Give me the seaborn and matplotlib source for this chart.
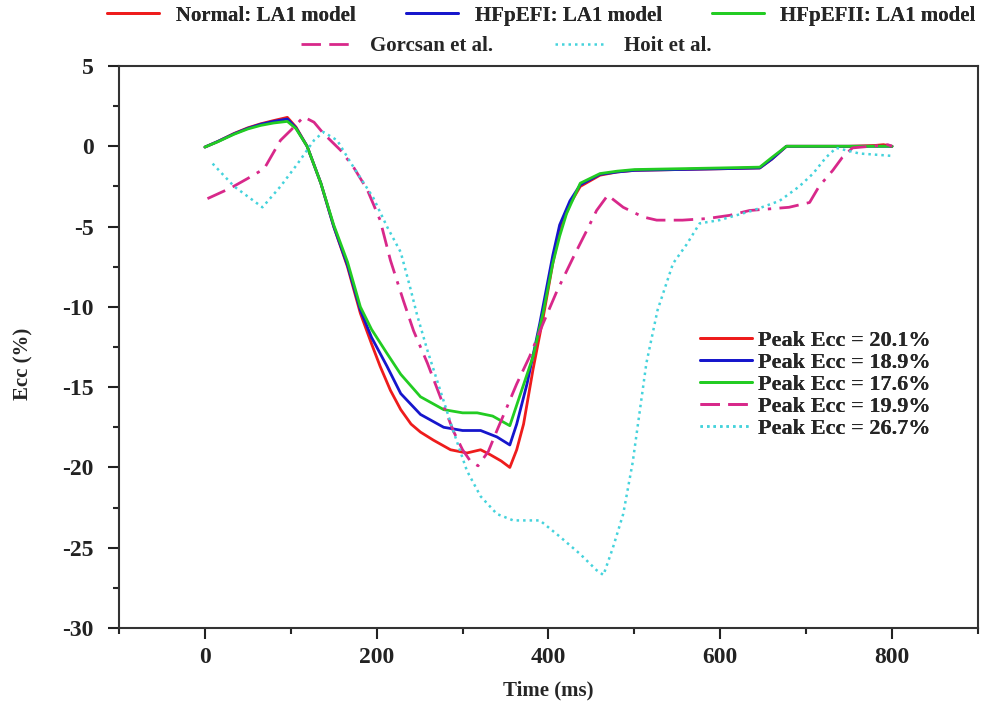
import matplotlib
matplotlib.use("Agg")
import matplotlib.pyplot as plt
from matplotlib.ticker import MultipleLocator
import seaborn as sns
import pandas as pd

# ---------------- data ----------------
normal_t = [0, 15, 34, 50, 65, 80, 96, 106, 119, 135, 150, 166, 181, 194, 204, 216, 228, 240, 251,
            266, 286, 305, 321, 332, 345, 355, 363, 371, 382, 394, 405, 413, 425, 437, 460, 480,
            500, 550, 600, 646, 660, 677, 700, 750, 780, 790, 800]
normal_y = [-0.05, 0.3, 0.8, 1.15, 1.4, 1.6, 1.8, 1.2, 0.0, -2.3, -5.0, -7.5, -10.4, -12.3, -13.7,
            -15.2, -16.4, -17.3, -17.8, -18.3, -18.9, -19.1, -18.9, -19.2, -19.6, -20.0, -18.9,
            -17.3, -13.9, -10.6, -7.3, -5.2, -3.6, -2.5, -1.8, -1.6, -1.5, -1.45, -1.4, -1.35,
            -0.8, 0.0, 0.0, 0.0, 0.05, 0.1, 0.0]

hfpef1_t = [0, 15, 34, 50, 65, 80, 96, 106, 119, 135, 150, 166, 181, 194, 212, 228, 251, 278,
            300, 321, 340, 355, 363, 375, 390, 405, 413, 425, 437, 460, 480, 500, 550, 600, 646,
            660, 677, 700, 750, 800]
hfpef1_y = [-0.05, 0.3, 0.78, 1.12, 1.37, 1.55, 1.7, 1.15, 0.0, -2.3, -5.0, -7.4, -10.2, -11.9,
            -13.7, -15.4, -16.7, -17.5, -17.7, -17.7, -18.1, -18.6, -17.3, -14.8, -11.0, -6.8,
            -4.9, -3.4, -2.4, -1.75, -1.6, -1.5, -1.45, -1.4, -1.35, -0.8, 0.0, 0.0, 0.0, 0.0]

hfpef2_t = [0, 15, 34, 50, 65, 80, 96, 106, 119, 135, 150, 166, 181, 194, 212, 228, 251, 278,
            300, 317, 335, 355, 365, 382, 394, 405, 413, 421, 437, 460, 480, 500, 550, 600, 646,
            660, 677, 700, 750, 800]
hfpef2_y = [-0.05, 0.28, 0.75, 1.08, 1.3, 1.45, 1.55, 1.1, 0.0, -2.3, -4.9, -7.2, -10.0, -11.4,
            -12.9, -14.2, -15.6, -16.4, -16.6, -16.6, -16.8, -17.4, -15.8, -13.1, -10.3, -7.3,
            -5.6, -4.2, -2.3, -1.7, -1.55, -1.45, -1.4, -1.35, -1.3, -0.7, 0.0, 0.0, 0.0, 0.0]

gorcsan_t = [3, 30, 50, 69, 88, 100, 115, 127, 138, 158, 173, 189, 204, 216, 231, 243, 259, 274,
             289, 300, 309, 318, 330, 340, 352, 363, 378, 394, 410, 429, 445, 456, 469, 487, 510,
             526, 556, 585, 611, 634, 657, 680, 704, 715, 731, 742, 754, 775, 795, 800]
gorcsan_y = [-3.26, -2.6, -2.0, -1.4, 0.37, 1.0, 1.83, 1.5, 0.8, -0.25, -1.3, -2.7, -4.6, -7.1,
             -9.6, -11.5, -13.5, -15.6, -17.7, -18.9, -19.6, -19.9, -19.0, -17.7, -16.2, -14.8,
             -13.1, -11.0, -9.0, -6.9, -5.2, -4.0, -3.05, -3.8, -4.4, -4.6, -4.6, -4.5, -4.3,
             -4.0, -3.9, -3.8, -3.5, -2.5, -1.5, -0.7, -0.1, 0.0, 0.1, 0.0]

hoit_t = [9, 34, 67, 88, 108, 127, 138, 154, 173, 196, 212, 228, 239, 247, 259, 274, 289, 305,
          321, 340, 359, 390, 413, 437, 456, 464, 475, 487, 498, 506, 514, 527, 545, 561, 576,
          599, 638, 669, 692, 708, 723, 735, 762, 793, 800]
hoit_y = [-1.08, -2.5, -3.8, -2.5, -1.08, 0.37, 0.89, 0.37, -1.3, -3.2, -5.0, -6.6, -8.8, -10.5,
          -12.7, -15.2, -17.7, -20.2, -21.8, -22.9, -23.3, -23.3, -24.3, -25.4, -26.4, -26.7,
          -25.0, -22.9, -19.7, -16.6, -13.5, -10.2, -7.3, -6.1, -4.8, -4.6, -4.0, -3.4, -2.5,
          -1.7, -0.7, -0.1, -0.45, -0.57, -0.6]

series_names = ["Normal: LA1 model", "HFpEFI: LA1 model", "HFpEFII: LA1 model",
                "Gorcsan et al.", "Hoit et al."]
peak_labels = ["Peak Ecc = 20.1%", "Peak Ecc = 18.9%", "Peak Ecc = 17.6%",
               "Peak Ecc = 19.9%", "Peak Ecc = 26.7%"]
x_ticks = [0, 200, 400, 600, 800]
y_ticks = [5, 0, -5, -10, -15, -20, -25, -30]

# ---------------- style ----------------
sns.set_style("ticks")
plt.rcParams["font.family"] = ["Liberation Serif", "DejaVu Serif"]
plt.rcParams["font.weight"] = "bold"
plt.rcParams["axes.unicode_minus"] = False

colors = ["#ee1c1c", "#1616cc", "#22cc22", "#d8288a", "#45d3dc"]
styles = ["-", "-", "-", (0, (7, 3, 7, 3, 1.2, 3)), (0, (1, 1.6))]
widths = [2.0, 2.0, 2.0, 2.0, 1.8]

fig = plt.figure(figsize=(9.81, 7.05), dpi=100)
ax = fig.add_axes([0.1213, 0.1092, 0.8756, 0.7972])

data = [(normal_t, normal_y), (hfpef1_t, hfpef1_y), (hfpef2_t, hfpef2_y),
        (gorcsan_t, gorcsan_y), (hoit_t, hoit_y)]
for (t, y), name, c, ls, lw in zip(data, series_names, colors, styles, widths):
    df = pd.DataFrame({"Time": t, "Ecc": y})
    sns.lineplot(data=df, x="Time", y="Ecc", ax=ax, color=c, linestyle=ls,
                 linewidth=lw, sort=False, label=name)

ax.set_xlim(-100, 900)
ax.set_ylim(-30, 5)
ax.set_xticks(x_ticks)
ax.set_yticks(y_ticks)
ax.xaxis.set_minor_locator(MultipleLocator(100))
ax.yaxis.set_minor_locator(MultipleLocator(2.5))
ax.tick_params(axis="both", which="major", direction="out", length=8, width=1.5,
               labelsize=17, colors="#222222")
ax.tick_params(axis="y", which="major", pad=10)
ax.tick_params(axis="x", which="major", pad=6)
ax.tick_params(axis="both", which="minor", direction="out", length=4, width=1.5)
for lab in ax.get_xticklabels() + ax.get_yticklabels():
    lab.set_fontweight("bold")
for sp in ax.spines.values():
    sp.set_visible(True)
    sp.set_linewidth(1.5)
    sp.set_color("#333333")

ax.set_xlabel("Time (ms)", fontsize=15, fontweight="bold", labelpad=9)
ax.set_ylabel("Ecc (%)", fontsize=15, fontweight="bold")
ax.yaxis.set_label_coords(-0.099, 0.47)

handles = ax.get_lines()[:5]
prop = {"family": "Liberation Serif", "weight": "bold", "size": 15}
prop_in = {"family": "Liberation Serif", "weight": "bold", "size": 16}

# in-plot legend
leg_in = ax.legend(handles, peak_labels, loc="upper left", bbox_to_anchor=(0.664, 0.55),
                   frameon=False, prop=prop_in, handlelength=2.3, handletextpad=0.3,
                   labelspacing=0.07, borderpad=0)
ax.add_artist(leg_in)

# top legends
leg1 = fig.legend(handles[:3], series_names[:3], loc="center", bbox_to_anchor=(0.552, 0.978),
                  ncol=3, frameon=False, prop=prop, handlelength=2.5, handletextpad=0.8,
                  columnspacing=2.4, borderpad=0)
leg2 = fig.legend(handles[3:], series_names[3:], loc="center", bbox_to_anchor=(0.516, 0.935),
                  ncol=2, frameon=False, prop=prop, handlelength=2.5, handletextpad=0.8,
                  columnspacing=3.0, borderpad=0)
fig.add_artist(leg1)

fig.savefig("out.png", dpi=100)
